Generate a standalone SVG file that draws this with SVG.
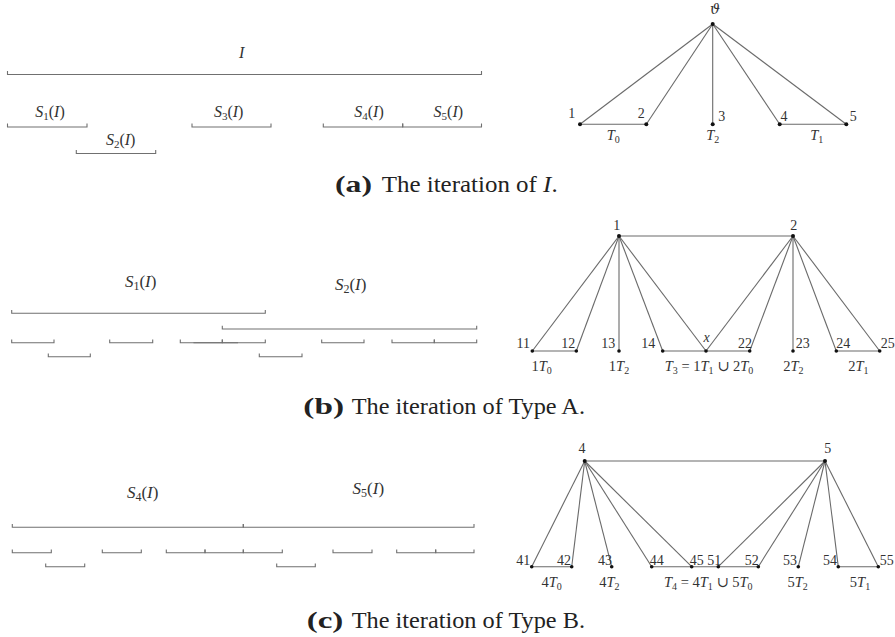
<svg xmlns="http://www.w3.org/2000/svg" width="895" height="637" viewBox="0 0 895 637">
<style>
.iv{stroke:#707070;stroke-width:1.1;fill:none}
.e{stroke:#6a6a6a;stroke-width:1.1;fill:none}
.dot{fill:#111}
text{font-family:"Liberation Serif","Times New Roman",serif;fill:#333}
.sym{font-family:"DejaVu Serif",serif}
.lb{font-size:16px;text-anchor:middle}
.lbm{font-size:17px;text-anchor:middle}
.num{font-size:14px;text-anchor:middle}
.tl{font-size:14.5px;text-anchor:middle}
.it{font-style:italic}
.cap{font-size:23px;fill:#222}
.capb{font-size:23px;font-weight:bold;fill:#222}
</style>
<rect width="895" height="637" fill="#fff"/>

<!-- (a) intervals -->
<g id="intervals-a">
<path class="iv" d="M7.5 71V74.5H481.5V71"/>
<path class="iv" d="M7.5 123.5V127H87V123.5"/>
<path class="iv" d="M76.3 150V153.5H155.7V150"/>
<path class="iv" d="M192 123.5V127H271V123.5"/>
<path class="iv" d="M323.3 123.5V127H402.7V123.5"/>
<path class="iv" d="M402.7 123.5V127H481.5V123.5"/>
<text class="lb it" x="241.7" y="58">I</text>
<text class="lb" x="50" y="117"><tspan class="it">S</tspan><tspan font-size="11" dy="3">1</tspan><tspan dy="-3">(</tspan><tspan class="it">I</tspan>)</text>
<text class="lb" x="120.7" y="145"><tspan class="it">S</tspan><tspan font-size="11" dy="3">2</tspan><tspan dy="-3">(</tspan><tspan class="it">I</tspan>)</text>
<text class="lb" x="228.7" y="117"><tspan class="it">S</tspan><tspan font-size="11" dy="3">3</tspan><tspan dy="-3">(</tspan><tspan class="it">I</tspan>)</text>
<text class="lb" x="369" y="117"><tspan class="it">S</tspan><tspan font-size="11" dy="3">4</tspan><tspan dy="-3">(</tspan><tspan class="it">I</tspan>)</text>
<text class="lb" x="448.3" y="117"><tspan class="it">S</tspan><tspan font-size="11" dy="3">5</tspan><tspan dy="-3">(</tspan><tspan class="it">I</tspan>)</text>
</g>

<!-- (a) graph -->
<g id="edges-a">
<line class="e" x1="712.7" y1="24" x2="580" y2="124.3"/>
<line class="e" x1="712.7" y1="24" x2="646.3" y2="124.3"/>
<line class="e" x1="712.7" y1="24" x2="712.7" y2="124.3"/>
<line class="e" x1="712.7" y1="24" x2="779.7" y2="124.3"/>
<line class="e" x1="712.7" y1="24" x2="846.3" y2="124.3"/>
<line class="e" x1="580" y1="124.3" x2="646.3" y2="124.3"/>
<line class="e" x1="779.7" y1="124.3" x2="846.3" y2="124.3"/>
</g>
<g id="node-theta"><circle class="dot" cx="712.7" cy="24" r="2"/><text class="num it sym" x="715" y="14">ϑ</text></g>
<g id="node-a1"><circle class="dot" cx="580" cy="124.3" r="2"/><text class="num" x="571.7" y="118">1</text></g>
<g id="node-a2"><circle class="dot" cx="646.3" cy="124.3" r="2"/><text class="num" x="641.3" y="118">2</text></g>
<g id="node-a3"><circle class="dot" cx="712.7" cy="124.3" r="2"/><text class="num" x="721.7" y="120.5">3</text></g>
<g id="node-a4"><circle class="dot" cx="779.7" cy="124.3" r="2"/><text class="num" x="784" y="120.5">4</text></g>
<g id="node-a5"><circle class="dot" cx="846.3" cy="124.3" r="2"/><text class="num" x="853.3" y="120.5">5</text></g>
<g id="labels-a">
<text class="tl" x="613.3" y="140"><tspan class="it">T</tspan><tspan font-size="10" dy="3">0</tspan></text>
<text class="tl" x="712.7" y="140"><tspan class="it">T</tspan><tspan font-size="10" dy="3">2</tspan></text>
<text class="tl" x="816.7" y="140"><tspan class="it">T</tspan><tspan font-size="10" dy="3">1</tspan></text>
</g>
<g id="caption-a">
<text class="capb" x="335" y="192" textLength="37" lengthAdjust="spacingAndGlyphs">(a)</text>
<text class="cap" x="381.7" y="192" textLength="176" lengthAdjust="spacingAndGlyphs">The iteration of <tspan class="it">I</tspan>.</text>
</g>

<!-- (b) intervals -->
<g id="intervals-b">
<text class="lbm" x="140.7" y="287"><tspan class="it">S</tspan><tspan font-size="12" dy="3">1</tspan><tspan dy="-3">(</tspan><tspan class="it">I</tspan>)</text>
<text class="lbm" x="350.7" y="290"><tspan class="it">S</tspan><tspan font-size="12" dy="3">2</tspan><tspan dy="-3">(</tspan><tspan class="it">I</tspan>)</text>
<path class="iv" d="M11.7 310V313.3H265.3V310"/>
<path class="iv" d="M222.3 325.7V329H476.7V325.7"/>
<path class="iv" d="M11.7 339.5V342.7H54V339.5"/>
<path class="iv" d="M109.7 339.5V342.7H152.7V339.5"/>
<path class="iv" d="M180.3 339.5V342.7H222.3V339.5"/>
<path class="iv" d="M222.3 339.5V342.7H265.3V339.5"/>
<line class="iv" x1="193.5" y1="342.7" x2="238" y2="342.7"/>
<path class="iv" d="M321.7 339.5V342.7H364V339.5"/>
<path class="iv" d="M392 339.5V342.7H434.3V339.5"/>
<path class="iv" d="M434.3 339.5V342.7H476.7V339.5"/>
<path class="iv" d="M48.3 353.5V356.7H90.3V353.5"/>
<path class="iv" d="M259.3 353.5V356.7H302V353.5"/>
</g>

<!-- (b) graph -->
<g id="edges-b">
<line class="e" x1="619" y1="236" x2="793" y2="236"/>
<line class="e" x1="619" y1="236" x2="532.3" y2="351"/>
<line class="e" x1="619" y1="236" x2="576.3" y2="351"/>
<line class="e" x1="619" y1="236" x2="619" y2="351"/>
<line class="e" x1="619" y1="236" x2="662.7" y2="351"/>
<line class="e" x1="619" y1="236" x2="706" y2="351"/>
<line class="e" x1="793" y1="236" x2="706" y2="351"/>
<line class="e" x1="793" y1="236" x2="749.7" y2="351"/>
<line class="e" x1="793" y1="236" x2="793" y2="351"/>
<line class="e" x1="793" y1="236" x2="836.3" y2="351"/>
<line class="e" x1="793" y1="236" x2="879.7" y2="351"/>
<line class="e" x1="532.3" y1="351" x2="576.3" y2="351"/>
<line class="e" x1="662.7" y1="351" x2="749.7" y2="351"/>
<line class="e" x1="836.3" y1="351" x2="879.7" y2="351"/>
</g>
<g id="node-b1"><circle class="dot" cx="619" cy="236" r="2"/><text class="num" x="616.7" y="229.5">1</text></g>
<g id="node-b2"><circle class="dot" cx="793" cy="236" r="2"/><text class="num" x="793.7" y="229.5">2</text></g>
<g id="node-b11"><circle class="dot" cx="532.3" cy="351" r="1.8"/><text class="num" x="523.3" y="347.5">11</text></g>
<g id="node-b12"><circle class="dot" cx="576.3" cy="351" r="1.8"/><text class="num" x="568.3" y="347.5">12</text></g>
<g id="node-b13"><circle class="dot" cx="619" cy="351" r="1.8"/><text class="num" x="608.3" y="347.5">13</text></g>
<g id="node-b14"><circle class="dot" cx="662.7" cy="351" r="1.8"/><text class="num" x="648.3" y="347.5">14</text></g>
<g id="node-bx"><circle class="dot" cx="706" cy="351" r="1.8"/><text class="num it" x="706.7" y="342">x</text></g>
<g id="node-b22"><circle class="dot" cx="749.7" cy="351" r="1.8"/><text class="num" x="745" y="347.5">22</text></g>
<g id="node-b23"><circle class="dot" cx="793" cy="351" r="1.8"/><text class="num" x="802.7" y="347.5">23</text></g>
<g id="node-b24"><circle class="dot" cx="836.3" cy="351" r="1.8"/><text class="num" x="843.3" y="347.5">24</text></g>
<g id="node-b25"><circle class="dot" cx="879.7" cy="351" r="1.8"/><text class="num" x="887.7" y="347.5">25</text></g>
<g id="labels-b">
<text class="tl" x="541.7" y="371">1<tspan class="it">T</tspan><tspan font-size="10" dy="3">0</tspan></text>
<text class="tl" x="619" y="371">1<tspan class="it">T</tspan><tspan font-size="10" dy="3">2</tspan></text>
<text class="tl" x="709" y="371"><tspan class="it">T</tspan><tspan font-size="10" dy="3">3</tspan><tspan dy="-3"> = 1</tspan><tspan class="it">T</tspan><tspan font-size="10" dy="3">1</tspan><tspan dy="-3"> </tspan><tspan class="sym">∪</tspan> 2<tspan class="it">T</tspan><tspan font-size="10" dy="3">0</tspan></text>
<text class="tl" x="793.3" y="371">2<tspan class="it">T</tspan><tspan font-size="10" dy="3">2</tspan></text>
<text class="tl" x="858.3" y="371">2<tspan class="it">T</tspan><tspan font-size="10" dy="3">1</tspan></text>
</g>
<g id="caption-b">
<text class="capb" x="303.3" y="414" textLength="40.7" lengthAdjust="spacingAndGlyphs">(b)</text>
<text class="cap" x="351.7" y="414" textLength="233.3" lengthAdjust="spacingAndGlyphs">The iteration of Type A.</text>
</g>

<!-- (c) intervals -->
<g id="intervals-c">
<text class="lbm" x="142.7" y="498"><tspan class="it">S</tspan><tspan font-size="12" dy="3">4</tspan><tspan dy="-3">(</tspan><tspan class="it">I</tspan>)</text>
<text class="lbm" x="368.3" y="494"><tspan class="it">S</tspan><tspan font-size="12" dy="3">5</tspan><tspan dy="-3">(</tspan><tspan class="it">I</tspan>)</text>
<path class="iv" d="M12.3 524V527.3H243.3V524"/>
<path class="iv" d="M243.3 524V527.3H474V524"/>
<path class="iv" d="M12.3 549.5V552.7H51.3V549.5"/>
<path class="iv" d="M102.3 549.5V552.7H141.3V549.5"/>
<path class="iv" d="M166.3 549.5V552.7H205V549.5"/>
<path class="iv" d="M205 549.5V552.7H243.3V549.5"/>
<path class="iv" d="M243.3 549.5V552.7H282.3V549.5"/>
<path class="iv" d="M333 549.5V552.7H372V549.5"/>
<path class="iv" d="M396.7 549.5V552.7H435.7V549.5"/>
<path class="iv" d="M435.7 549.5V552.7H474V549.5"/>
<path class="iv" d="M45.7 563.5V566.7H84.7V563.5"/>
<path class="iv" d="M276.7 563.5V566.7H315.3V563.5"/>
</g>

<!-- (c) graph -->
<g id="edges-c">
<line class="e" x1="584.7" y1="461" x2="825" y2="461"/>
<line class="e" x1="584.7" y1="461" x2="531.7" y2="566.7"/>
<line class="e" x1="584.7" y1="461" x2="571.7" y2="566.7"/>
<line class="e" x1="584.7" y1="461" x2="611.7" y2="566.7"/>
<line class="e" x1="584.7" y1="461" x2="651.7" y2="566.7"/>
<line class="e" x1="584.7" y1="461" x2="691.7" y2="566.7"/>
<line class="e" x1="825" y1="461" x2="718.3" y2="566.7"/>
<line class="e" x1="825" y1="461" x2="758.3" y2="566.7"/>
<line class="e" x1="825" y1="461" x2="798.3" y2="566.7"/>
<line class="e" x1="825" y1="461" x2="838.3" y2="566.7"/>
<line class="e" x1="825" y1="461" x2="878.3" y2="566.7"/>
<line class="e" x1="531.7" y1="566.7" x2="571.7" y2="566.7"/>
<line class="e" x1="651.7" y1="566.7" x2="758.3" y2="566.7"/>
<line class="e" x1="838.3" y1="566.7" x2="878.3" y2="566.7"/>
</g>
<g id="node-c4"><circle class="dot" cx="584.7" cy="461" r="2"/><text class="num" x="582" y="453">4</text></g>
<g id="node-c5"><circle class="dot" cx="825" cy="461" r="2"/><text class="num" x="827.7" y="453">5</text></g>
<g id="node-c41"><circle class="dot" cx="531.7" cy="566.7" r="1.8"/><text class="num" x="523.3" y="564.5">41</text></g>
<g id="node-c42"><circle class="dot" cx="571.7" cy="566.7" r="1.8"/><text class="num" x="564" y="564.5">42</text></g>
<g id="node-c43"><circle class="dot" cx="611.7" cy="566.7" r="1.8"/><text class="num" x="605" y="564.5">43</text></g>
<g id="node-c44"><circle class="dot" cx="651.7" cy="566.7" r="1.8"/><text class="num" x="656.7" y="564.5">44</text></g>
<g id="node-c45"><circle class="dot" cx="691.7" cy="566.7" r="1.8"/><text class="num" x="696.7" y="564.5">45</text></g>
<g id="node-c51"><circle class="dot" cx="718.3" cy="566.7" r="1.8"/><text class="num" x="714.3" y="564.5">51</text></g>
<g id="node-c52"><circle class="dot" cx="758.3" cy="566.7" r="1.8"/><text class="num" x="751.7" y="564.5">52</text></g>
<g id="node-c53"><circle class="dot" cx="798.3" cy="566.7" r="1.8"/><text class="num" x="790" y="564.5">53</text></g>
<g id="node-c54"><circle class="dot" cx="838.3" cy="566.7" r="1.8"/><text class="num" x="830" y="564.5">54</text></g>
<g id="node-c55"><circle class="dot" cx="878.3" cy="566.7" r="1.8"/><text class="num" x="886.7" y="564.5">55</text></g>
<g id="labels-c">
<text class="tl" x="551.7" y="587">4<tspan class="it">T</tspan><tspan font-size="10" dy="3">0</tspan></text>
<text class="tl" x="609.3" y="587">4<tspan class="it">T</tspan><tspan font-size="10" dy="3">2</tspan></text>
<text class="tl" x="708.3" y="587"><tspan class="it">T</tspan><tspan font-size="10" dy="3">4</tspan><tspan dy="-3"> = 4</tspan><tspan class="it">T</tspan><tspan font-size="10" dy="3">1</tspan><tspan dy="-3"> </tspan><tspan class="sym">∪</tspan> 5<tspan class="it">T</tspan><tspan font-size="10" dy="3">0</tspan></text>
<text class="tl" x="797.7" y="587">5<tspan class="it">T</tspan><tspan font-size="10" dy="3">2</tspan></text>
<text class="tl" x="860" y="587">5<tspan class="it">T</tspan><tspan font-size="10" dy="3">1</tspan></text>
</g>
<g id="caption-c">
<text class="capb" x="306.7" y="628" textLength="36.6" lengthAdjust="spacingAndGlyphs">(c)</text>
<text class="cap" x="351.7" y="628" textLength="233.3" lengthAdjust="spacingAndGlyphs">The iteration of Type B.</text>
</g>
</svg>
